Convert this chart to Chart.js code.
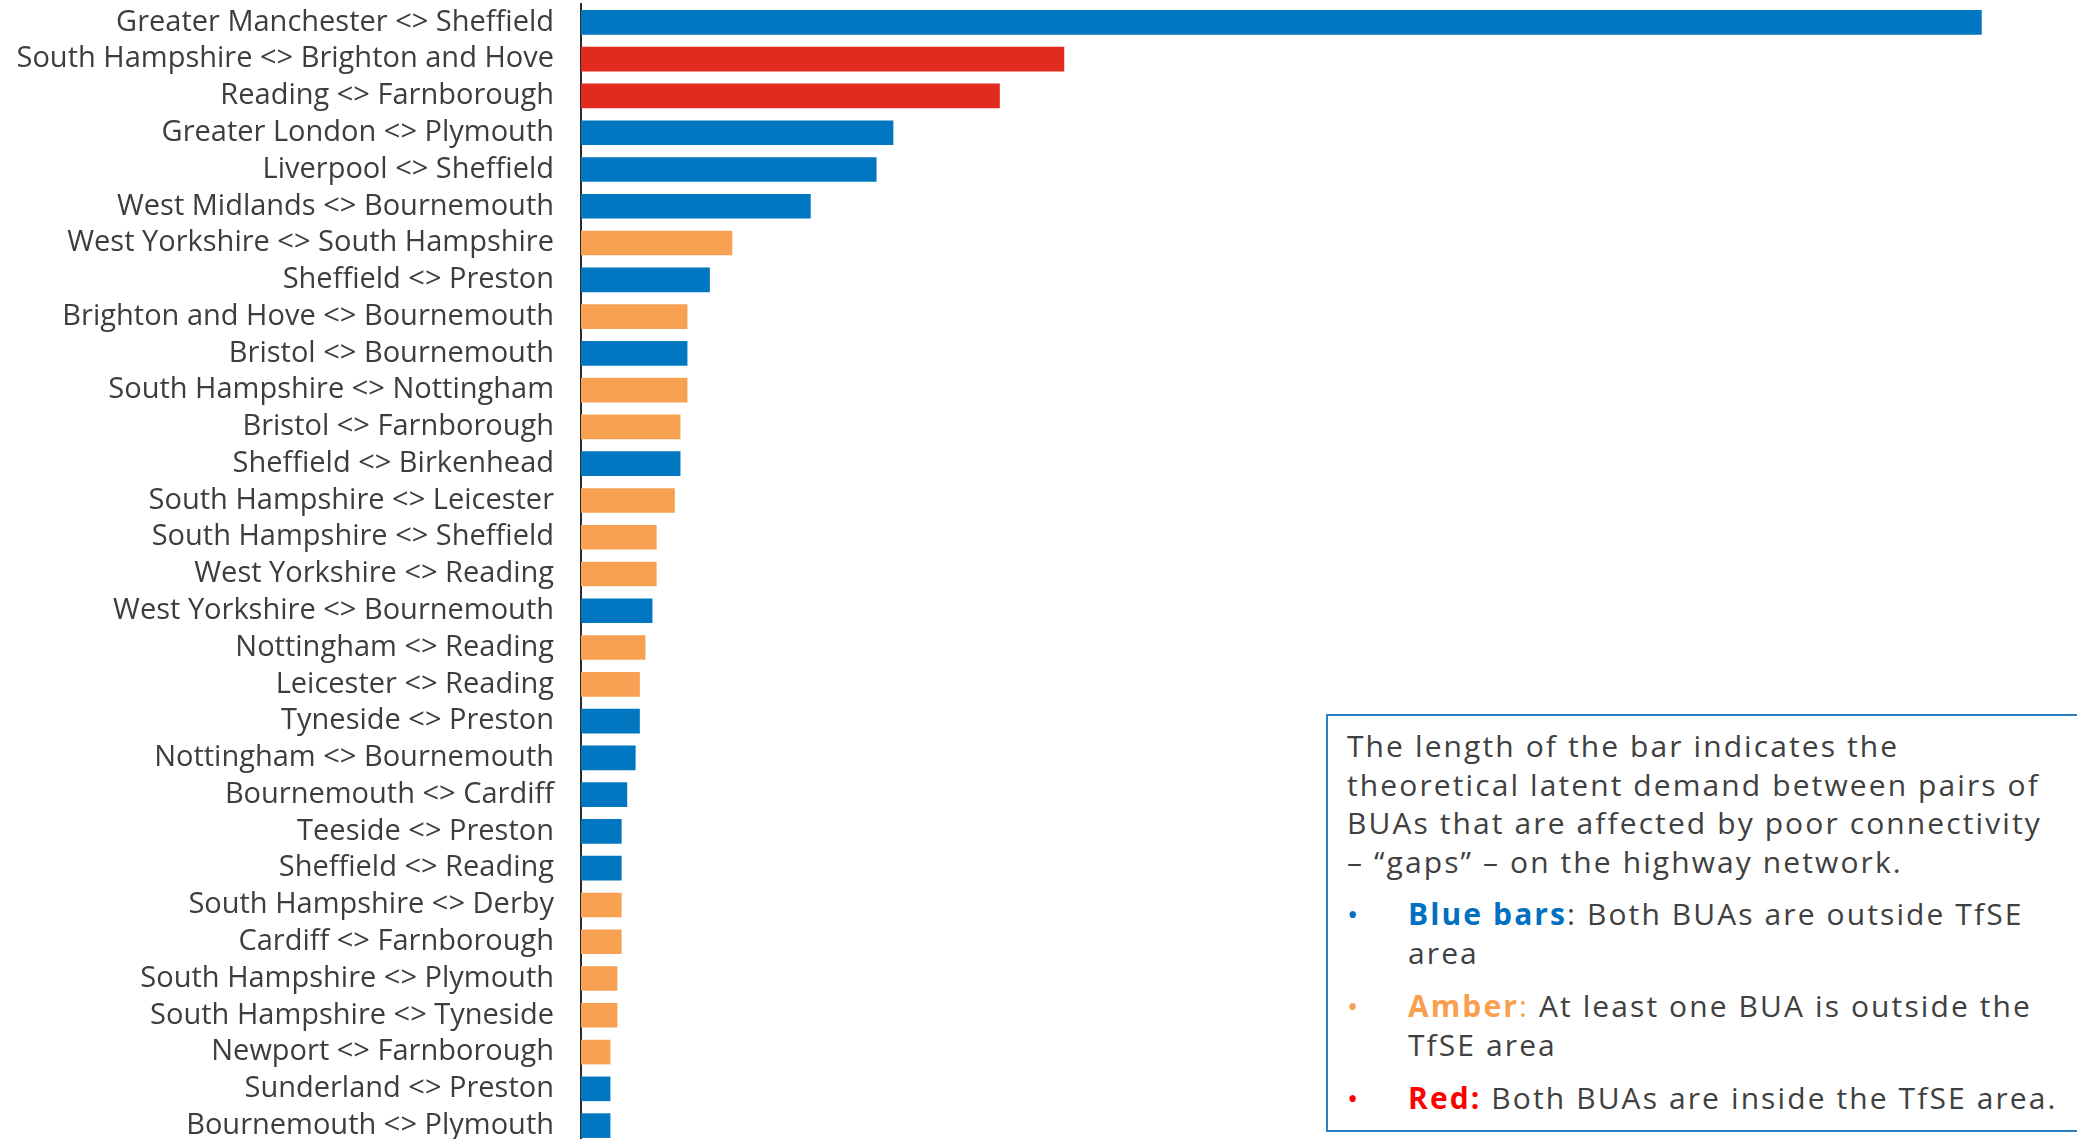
<!DOCTYPE html>
<html>
<head>
<meta charset="utf-8">
<script src="https://cdn.jsdelivr.net/npm/chart.js@4/dist/chart.umd.min.js"></script>
<style>
  html, body { margin: 0; padding: 0; background: #fff; overflow: hidden; }
  #wrap { position: absolute; left: 0; top: 0; width: 2077px; height: 1144px; }
  #note {
    position: absolute; left: 1326px; top: 714px; width: 790px; height: 418px;
    border: 2px solid #2b7fc3; background: #fff;
    font-family: "Open Sans", sans-serif; color: #404040; font-size: 30px; line-height: 38.5px;
    letter-spacing: 2.1px; white-space: nowrap;
    box-sizing: border-box; padding: 11px 0 0 19px;
  }
  #note p { margin: 0; }
  #note ul { list-style: none; margin: 14px 0 0 0; padding: 0; }
  #note li { position: relative; padding-left: 61px; margin-bottom: 15px; }
  #note li .dot { position: absolute; left: 0; top: 0; font-size: 30px; }
</style>
</head>
<body>
<div id="wrap"><canvas id="grafico"></canvas></div>

<div id="note">
  <p>The length of the bar indicates the<br>theoretical latent demand between pairs of<br>BUAs that are affected by poor connectivity<br>– “gaps” – on the highway network.</p>
  <ul>
    <li><span class="dot" style="color:#0070c0">•</span><b style="color:#0070c0">Blue bars</b>: Both BUAs are outside TfSE<br>area</li>
    <li><span class="dot" style="color:#f9a050">•</span><b style="color:#f9a050">Amber</b><span style="color:#f9a050">:</span> At least one BUA is outside the<br>TfSE area</li>
    <li><span class="dot" style="color:#ff0000">•</span><b style="color:#ff0000">Red:</b> Both BUAs are inside the TfSE area.</li>
  </ul>
</div>

<script>
// --- dados (índice: maior par = 100) ---
const pares = [
  'Greater Manchester <> Sheffield', 'South Hampshire <> Brighton and Hove', 'Reading <> Farnborough',
  'Greater London <> Plymouth', 'Liverpool <> Sheffield', 'West Midlands <> Bournemouth',
  'West Yorkshire <> South Hampshire', 'Sheffield <> Preston', 'Brighton and Hove <> Bournemouth',
  'Bristol <> Bournemouth', 'South Hampshire <> Nottingham', 'Bristol <> Farnborough',
  'Sheffield <> Birkenhead', 'South Hampshire <> Leicester', 'South Hampshire <> Sheffield',
  'West Yorkshire <> Reading', 'West Yorkshire <> Bournemouth', 'Nottingham <> Reading',
  'Leicester <> Reading', 'Tyneside <> Preston', 'Nottingham <> Bournemouth',
  'Bournemouth <> Cardiff', 'Teeside <> Preston', 'Sheffield <> Reading',
  'South Hampshire <> Derby', 'Cardiff <> Farnborough', 'South Hampshire <> Plymouth',
  'South Hampshire <> Tyneside', 'Newport <> Farnborough', 'Sunderland <> Preston',
  'Bournemouth <> Plymouth'
];

const demanda = [
  100, 34.5, 29.9, 22.3, 21.1, 16.4, 10.8, 9.2, 7.6, 7.6,
  7.6, 7.1, 7.1, 6.7, 5.4, 5.4, 5.1, 4.6, 4.2, 4.2,
  3.9, 3.3, 2.9, 2.9, 2.9, 2.9, 2.6, 2.6, 2.1, 2.1,
  2.1
];

// B = ambos fora da TfSE, A = pelo menos um fora, R = ambos dentro
const categoria = [
  'B', 'R', 'R', 'B', 'B', 'B', 'A', 'B', 'A', 'B',
  'A', 'A', 'B', 'A', 'A', 'A', 'B', 'A', 'A', 'B',
  'B', 'B', 'B', 'B', 'A', 'A', 'A', 'A', 'A', 'B',
  'B'
];

const cores = { B: '#0077c0', A: '#f9a152', R: '#e02b1e' };

const ctx = document.getElementById('grafico').getContext('2d');
const chart = new Chart(ctx, {
  type: 'bar',
  data: {
    labels: pares,
    datasets: [{
      data: demanda,
      backgroundColor: categoria.map(c => cores[c]),
      borderWidth: 0,
      categoryPercentage: 1,
      barPercentage: 0.67
    }]
  },
  options: {
    indexAxis: 'y',
    responsive: true,
    maintainAspectRatio: false,
    animation: false,
    layout: { padding: { top: 4, left: 0, right: 0, bottom: 0 } },
    plugins: { legend: { display: false }, tooltip: { enabled: false } },
    scales: {
      x: { display: false, min: 0, max: 106.8 },
      y: {
        grid: { drawOnChartArea: false, drawTicks: false },
        border: { display: true, color: '#2b2b2b', width: 2 },
        ticks: {
          autoSkip: false,
          padding: 27,
          color: '#3d3d3d',
          font: { family: 'Open Sans', size: 29 }
        },
        afterFit: (scale) => {
          scale.width = 581;
          // sem folga extra em cima/embaixo para os rótulos
          scale.paddingTop = 0;
          scale.paddingBottom = 0;
        }
      }
    }
  }
});
</script>
</body>
</html>
